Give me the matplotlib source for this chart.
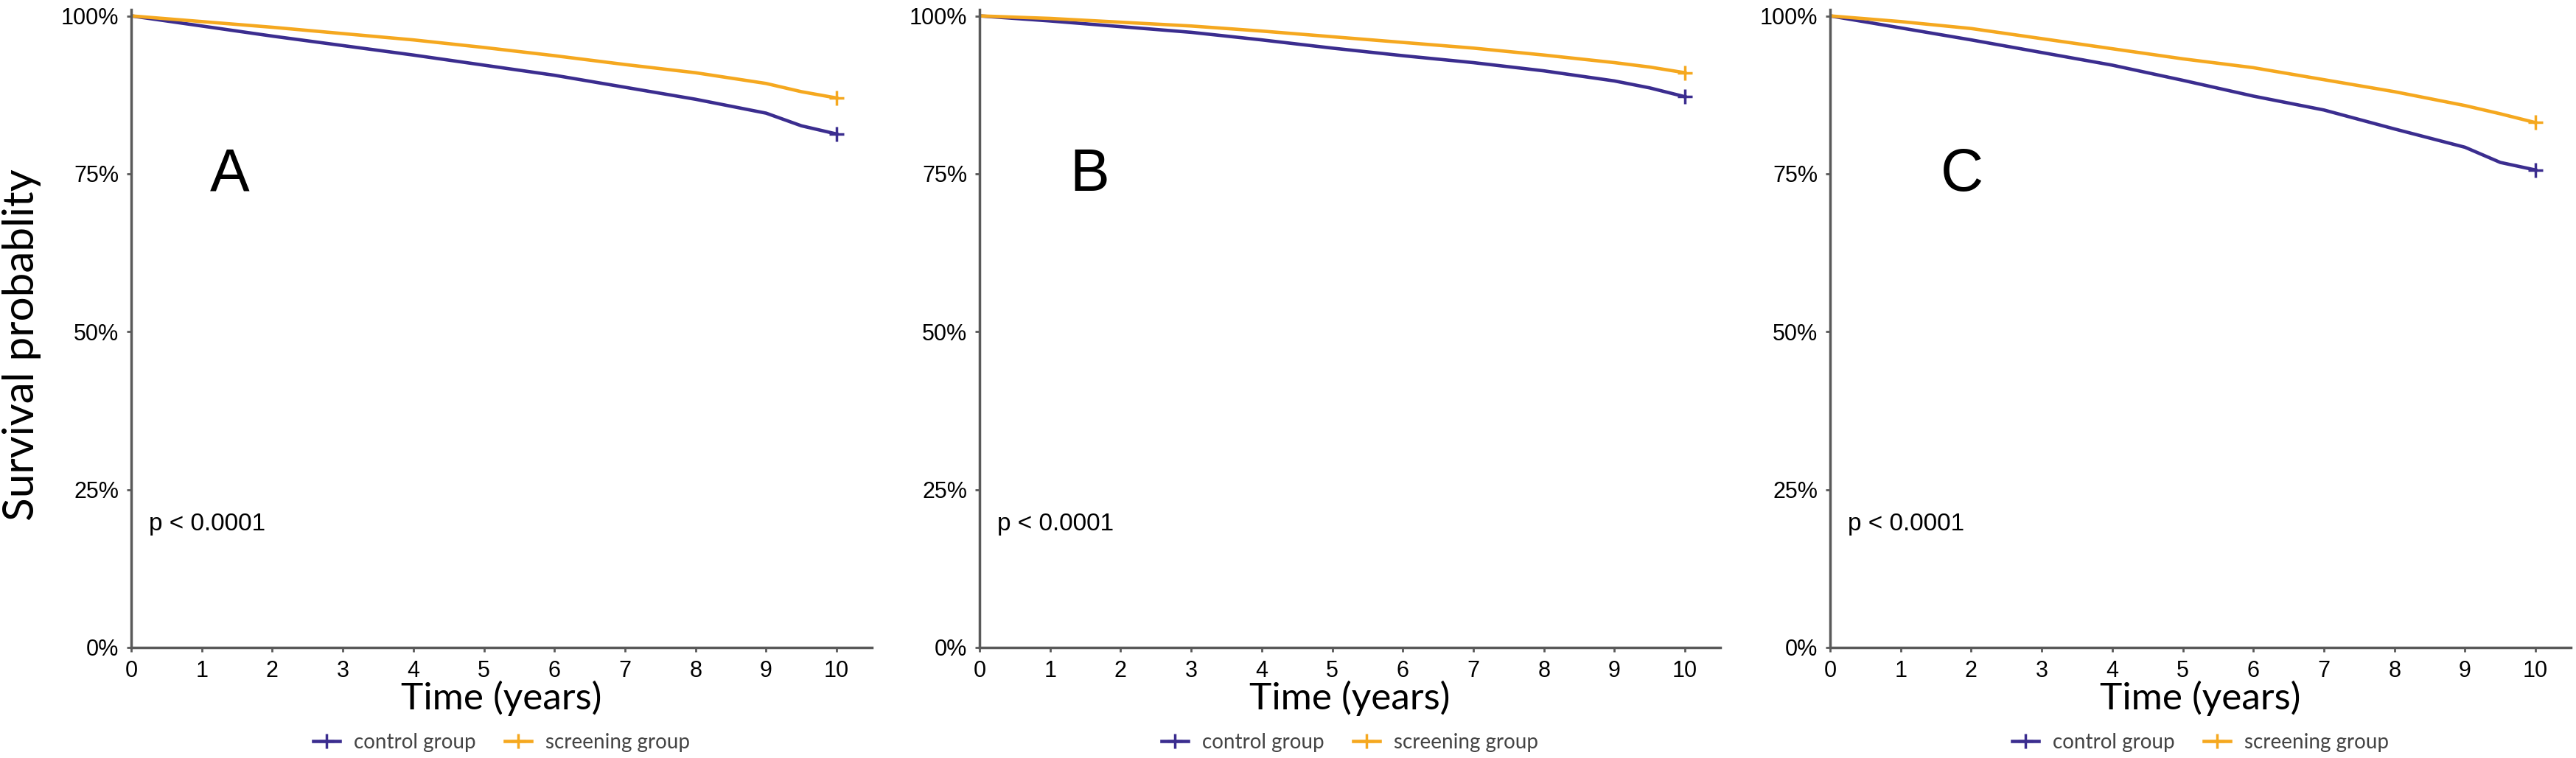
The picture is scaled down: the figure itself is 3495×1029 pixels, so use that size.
import matplotlib
matplotlib.use("Agg")
import matplotlib.pyplot as plt
from matplotlib.ticker import PercentFormatter

# survival curves (years -> probability)
years = [0, 1, 2, 3, 4, 5, 6, 7, 8, 9, 9.5, 10]

control_a = [1.0, 0.984, 0.968, 0.953, 0.938, 0.922, 0.906, 0.887, 0.868, 0.846, 0.826, 0.813]
screening_a = [1.0, 0.991, 0.982, 0.972, 0.962, 0.950, 0.937, 0.923, 0.910, 0.893, 0.880, 0.870]

control_b = [1.0, 0.992, 0.983, 0.974, 0.962, 0.949, 0.937, 0.926, 0.913, 0.897, 0.886, 0.872]
screening_b = [1.0, 0.996, 0.990, 0.984, 0.976, 0.967, 0.958, 0.949, 0.938, 0.926, 0.919, 0.910]

control_c = [1.0, 0.981, 0.962, 0.942, 0.922, 0.898, 0.873, 0.851, 0.821, 0.792, 0.768, 0.756]
screening_c = [1.0, 0.991, 0.980, 0.964, 0.948, 0.932, 0.918, 0.899, 0.880, 0.858, 0.845, 0.831]

panel_letters = ["A", "B", "C"]
letter_x = [1.4, 1.56, 1.87]
p_text = "p < 0.0001"
x_ticks = list(range(0, 11))
y_ticks = [0, 0.25, 0.5, 0.75, 1.0]

control_color = "#3b2d8f"
screening_color = "#f5a81f"
axis_color = "#595959"

W, H = 3495, 1029
fig = plt.figure(figsize=(W / 100, H / 100), dpi=100)

panels = [
    (178, control_a, screening_a),
    (1329, control_b, screening_b),
    (2483, control_c, screening_c),
]

for i, (left_px, ctrl, scr) in enumerate(panels):
    ax = fig.add_axes([left_px / W, 150 / H, 1005 / W, 866 / H])

    ax.plot(years, ctrl, color=control_color, lw=3.3, label="control group")
    ax.plot(years, scr, color=screening_color, lw=3.3, label="screening group")
    # censor marks at the end of follow-up
    ax.plot(years[-1], ctrl[-1], marker="+", ms=14, mew=2.5, color=control_color)
    ax.plot(years[-1], scr[-1], marker="+", ms=14, mew=2.5, color=screening_color)

    ax.set_xlim(0, 10.5)
    ax.set_ylim(0, 1.01)
    ax.set_xticks(x_ticks)
    ax.set_yticks(y_ticks)
    ax.yaxis.set_major_formatter(PercentFormatter(1.0, decimals=0))

    for side in ["top", "right"]:
        ax.spines[side].set_visible(False)
    for side in ["left", "bottom"]:
        ax.spines[side].set_color(axis_color)
        ax.spines[side].set_linewidth(2.5)
    ax.tick_params(length=4, width=2, color=axis_color, pad=8,
                   labelsize=22, labelcolor="black")
    for lbl in ax.get_xticklabels() + ax.get_yticklabels():
        lbl.set_family("Liberation Sans")

    ax.set_xlabel("Time (years)", fontsize=37, family="Lato")
    ax.xaxis.set_label_coords(0.5, -0.052)

    ax.text(letter_x[i], 0.748, panel_letters[i], fontsize=58,
            family="Liberation Sans", ha="center", va="center")
    ax.text(0.25, 0.195, p_text, fontsize=24, family="Liberation Sans",
            ha="left", va="center")

    leg = ax.legend(loc="center", bbox_to_anchor=(0.5, -0.149), ncol=2,
                    frameon=False, prop={"family": "Lato", "size": 20},
                    handlelength=1.3, handletextpad=0.7, columnspacing=1.4,
                    labelcolor="#444444")
    for h in leg.legend_handles:
        h.set_marker("+")
        h.set_markersize(14)
        h.set_markeredgewidth(2.5)

fig.text(30 / W, 1 - 468 / H, "Survival probablity", rotation=90,
         fontsize=42, family="Lato", ha="center", va="center")

fig.savefig("out.png", dpi=100)
